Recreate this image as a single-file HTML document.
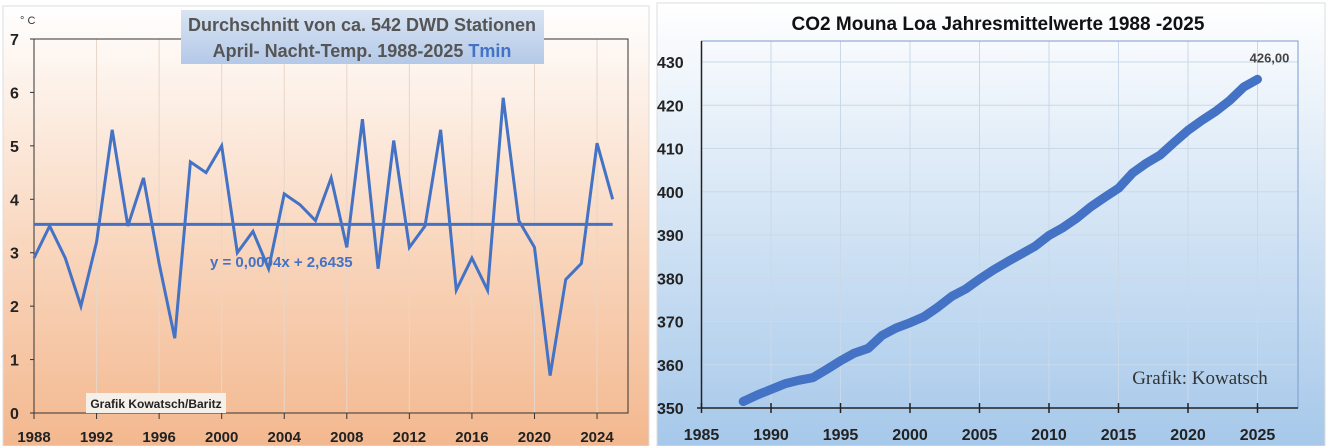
<!DOCTYPE html>
<html><head><meta charset="utf-8">
<style>
body{margin:0;width:1328px;height:446px;overflow:hidden;background:#fff;font-family:"Liberation Sans Narrow","Liberation Sans",sans-serif;}
svg{position:absolute;left:0;top:0}
</style></head>
<body>
<svg id="c" width="1328" height="446">
<defs>
<linearGradient id="peach" x1="0" y1="0" x2="0" y2="1"><stop offset="0" stop-color="#ffffff"/><stop offset="0.55" stop-color="#f9d6bd"/><stop offset="1" stop-color="#f3b88f"/></linearGradient>
<linearGradient id="blue" x1="0" y1="0" x2="0" y2="1"><stop offset="0" stop-color="#ffffff"/><stop offset="1" stop-color="#a6c8ea"/></linearGradient>
<linearGradient id="tbox" x1="0" y1="0" x2="0" y2="1"><stop offset="0" stop-color="#d9e4f3"/><stop offset="1" stop-color="#b4c9e8"/></linearGradient>
</defs>
<rect x="3" y="6" width="646" height="440" fill="url(#peach)" stroke="#ddd"/>
<rect x="657" y="3" width="668" height="443" fill="url(#blue)" stroke="#ddd"/>
<g id="L"></g><g id="R"></g>
</svg>
<script>
const NS="http://www.w3.org/2000/svg";
function mk(p,t,a,txt){const e=document.createElementNS(NS,t);for(const k in a)e.setAttribute(k,a[k]);if(txt!==undefined)e.textContent=txt;p.appendChild(e);return e;}
// ---- left chart data
const tYears=[1988,1989,1990,1991,1992,1993,1994,1995,1996,1997,1998,1999,2000,2001,2002,2003,2004,2005,2006,2007,2008,2009,2010,2011,2012,2013,2014,2015,2016,2017,2018,2019,2020,2021,2022,2023,2024,2025];
const tValues=[2.9,3.5,2.9,2.0,3.2,5.3,3.5,4.4,2.8,1.4,4.7,4.5,5.0,3.0,3.4,2.7,4.1,3.9,3.6,4.4,3.1,5.5,2.7,5.1,3.1,3.5,5.3,2.3,2.9,2.3,5.9,3.6,3.1,0.7,2.5,2.8,5.05,4.0];
const tTrend=[3.53,3.53];
const tYTicks=[0,1,2,3,4,5,6,7];
const tXTicks=[1988,1992,1996,2000,2004,2008,2012,2016,2020,2024];
// ---- right chart data
const cYears=[1988,1989,1990,1991,1992,1993,1994,1995,1996,1997,1998,1999,2000,2001,2002,2003,2004,2005,2006,2007,2008,2009,2010,2011,2012,2013,2014,2015,2016,2017,2018,2019,2020,2021,2022,2023,2024,2025];
const cValues=[351.5,353,354.3,355.6,356.4,357,358.9,360.9,362.7,363.8,366.8,368.5,369.7,371.1,373.3,375.8,377.5,379.8,381.9,383.8,385.6,387.4,389.9,391.7,393.9,396.5,398.7,400.8,404.3,406.6,408.5,411.4,414.2,416.5,418.6,421.1,424.2,426.0];
const cYTicks=[350,360,370,380,390,400,410,420,430];
const cXTicks=[1985,1990,1995,2000,2005,2010,2015,2020,2025];

// left axes
const lx=y=>34+(y-1988)*15.64, ly=v=>413-v*(374/7);
const L=document.getElementById('L');
let e;
tXTicks.forEach(t=>{e=mk(L,'line',{x1:lx(t),x2:lx(t),y1:ly(7),y2:ly(0),stroke:'#e8d6c8','stroke-width':1});
});
e=mk(L,'rect',{x:34,y:ly(7),width:594,height:ly(0)-ly(7),fill:'none',stroke:'#333','stroke-width':1});

tYTicks.forEach(t=>{e=mk(L,'text',{x:10,y:ly(t)+6,'font-size':16,'font-weight':'bold',fill:'#222'},t);

mk(L,'line',{x1:30,x2:34,y1:ly(t),y2:ly(t),stroke:'#333'});});
tXTicks.forEach(t=>{mk(L,'line',{x1:lx(t),x2:lx(t),y1:ly(0),y2:ly(0)+6,stroke:'#333'});
e=mk(L,'text',{x:lx(t),y:442,'font-size':15,'font-weight':'bold',fill:'#222','text-anchor':'middle'},t);
});
e=mk(L,'text',{x:20,y:24,'font-size':11,fill:'#333'},'° C');

e=mk(L,'line',{x1:lx(1988),x2:lx(2025),y1:ly(tTrend[0]),y2:ly(tTrend[1]),stroke:'#4472c4','stroke-width':3});

e=mk(L,'polyline',{points:tYears.map((y,i)=>lx(y)+','+ly(tValues[i])).join(' '),fill:'none',stroke:'#4472c4','stroke-width':3,'stroke-linejoin':'miter'});

e=mk(L,'text',{x:210,y:267,'font-size':15,'font-weight':'bold',fill:'#4472c4'},'y = 0,0004x + 2,6435');

e=mk(L,'rect',{x:181,y:10,width:363,height:54,fill:'url(#tbox)'});

e=mk(L,'text',{x:362,y:31,'font-size':18,'font-weight':'bold',fill:'#555','text-anchor':'middle'},'Durchschnitt von ca. 542 DWD Stationen');

e=mk(L,'text',{x:362,y:57,'font-size':18,'font-weight':'bold',fill:'#555','text-anchor':'middle'});

e.innerHTML='April- Nacht-Temp. 1988-2025 <tspan fill="#4472c4">Tmin</tspan>';
e=mk(L,'rect',{x:86,y:393,width:140,height:20,fill:'#f6f0ea'});

e=mk(L,'text',{x:156,y:408,'font-size':12,'font-weight':'bold',fill:'#222','text-anchor':'middle'},'Grafik Kowatsch/Baritz');


// right axes
const rx=y=>701.5+(y-1985)*13.9, ry=v=>408-(v-350)*4.325;
const R=document.getElementById('R');
cXTicks.forEach(t=>{e=mk(R,'line',{x1:rx(t),x2:rx(t),y1:41,y2:408,stroke:'#c9d9ea'});
});
cYTicks.forEach(t=>{e=mk(R,'line',{x1:701.5,x2:1298,y1:ry(t),y2:ry(t),stroke:'#c9d9ea'});

e=mk(R,'text',{x:657,y:ry(t)+6,'font-size':16,'font-weight':'bold',fill:'#222'},t);
});
e=mk(R,'rect',{x:701.5,y:41,width:596.5,height:367,fill:'none',stroke:'#7a9cd0'});

mk(R,'line',{x1:697,x2:1298,y1:408,y2:408,stroke:'#222','stroke-width':1.5});
mk(R,'line',{x1:701.5,x2:701.5,y1:41,y2:408,stroke:'#222','stroke-width':1.5});
cXTicks.forEach(t=>{mk(R,'line',{x1:rx(t),x2:rx(t),y1:403,y2:413,stroke:'#222','stroke-width':1.5});
e=mk(R,'text',{x:rx(t),y:440,'font-size':16,'font-weight':'bold',fill:'#222','text-anchor':'middle'},t);
});
e=mk(R,'polyline',{points:cYears.map((y,i)=>rx(y)+','+ry(cValues[i])).join(' '),fill:'none',stroke:'#4472c4','stroke-width':9,'stroke-linejoin':'round','stroke-linecap':'round'});

e=mk(R,'text',{x:rx(2025)+12,y:ry(cValues[cValues.length-1])-17,'font-size':13,'font-weight':'bold',fill:'#444','text-anchor':'middle'},'426,00');

e=mk(R,'text',{x:998,y:30,'font-size':19,'font-weight':'bold',fill:'#111','text-anchor':'middle'},'CO2 Mouna Loa Jahresmittelwerte 1988 -2025');

e=mk(R,'text',{x:1200,y:384,'font-size':19,fill:'#333','text-anchor':'middle','font-family':'Liberation Serif, serif'},'Grafik: Kowatsch');

</script>
</body></html>
